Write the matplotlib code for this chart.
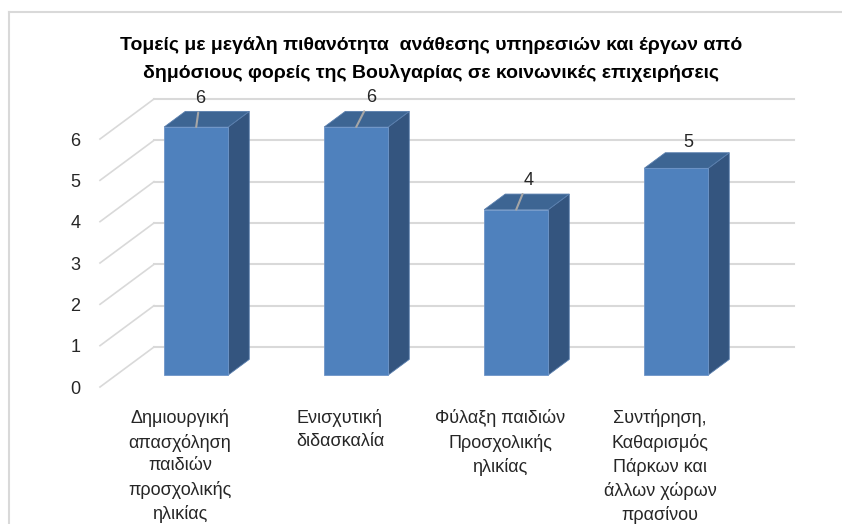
import matplotlib.pyplot as plt
from matplotlib.patches import Polygon
from matplotlib.lines import Line2D

plt.rcParams['font.family'] = ['Liberation Sans Narrow', 'Liberation Sans', 'DejaVu Sans']

title = ("Τομείς με μεγάλη πιθανότητα  ανάθεσης υπηρεσιών και έργων από\n"
         "δημόσιους φορείς της Βουλγαρίας σε κοινωνικές επιχειρήσεις")
categories = [
    "Δημιουργική\nαπασχόληση\nπαιδιών\nπροσχολικής\nηλικίας",
    "Ενισχυτική\nδιδασκαλία",
    "Φύλαξη παιδιών\nΠροσχολικής\nηλικίας",
    "Συντήρηση,\nΚαθαρισμός\nΠάρκων και\nάλλων χώρων\nπρασίνου",
]
values = [6, 6, 4, 5]
yticks = [0, 1, 2, 3, 4, 5, 6]

front_col = '#4F81BD'
side_col = '#34557F'
top_col = '#3D6593'
grid_col = '#D9D9D9'

fig = plt.figure(figsize=(8.42, 5.24), dpi=100)
W, H = 842, 524
# axes: front floor from x=100 to 740 px, value 0 at y=387 px, 6 at y=139 px
ax = fig.add_axes([100 / W, 137 / H, 640 / W, 248 / H])
ax.set_xlim(-0.5, 3.5)
ax.set_ylim(0, 6)
for s in ax.spines.values():
    s.set_visible(False)

# depth vector (full depth of the floor) in data units
DX = 54 / 160
DY = 40 / 41.33
b0, b1 = 0.3, 0.69   # bar depth span as fraction of floor depth
half = 0.2           # half bar width (category units)

# gridlines: back wall + left wall diagonals
for v in yticks:
    ax.add_line(Line2D([-0.5 + DX, 3.5 + DX], [v + DY, v + DY], color=grid_col,
                       lw=1.5, clip_on=False, zorder=1))
    ax.add_line(Line2D([-0.5, -0.5 + DX], [v, v + DY], color=grid_col,
                       lw=1.2, clip_on=False, zorder=1))

label_offsets = [(4, 20), (15, 21), (12, 21), (12, 17)]
leaders = [True, True, True, False]

for i, v in enumerate(values):
    fx0 = i - half + b0 * DX
    fx1 = i + half + b0 * DX
    fy = b0 * DY
    ddx = (b1 - b0) * DX
    ddy = (b1 - b0) * DY
    side = [(fx1, fy), (fx1 + ddx, fy + ddy), (fx1 + ddx, v + fy + ddy), (fx1, v + fy)]
    top = [(fx0, v + fy), (fx1, v + fy), (fx1 + ddx, v + fy + ddy), (fx0 + ddx, v + fy + ddy)]
    front = [(fx0, fy), (fx1, fy), (fx1, v + fy), (fx0, v + fy)]
    ax.add_patch(Polygon(side, closed=True, fc=side_col, ec='#5A7FAE', lw=0.6,
                         clip_on=False, zorder=3))
    ax.add_patch(Polygon(top, closed=True, fc=top_col, ec='#5A7FAE', lw=0.6,
                         clip_on=False, zorder=3))
    ax.add_patch(Polygon(front, closed=True, fc=front_col, ec='#6E95C8', lw=0.6,
                         clip_on=False, zorder=4))
    cx = i + b0 * DX
    ox, oy = label_offsets[i]
    ax.annotate(str(v), xy=(cx, v + fy), xytext=(ox, oy), textcoords='offset pixels',
                ha='center', va='bottom', fontsize=13, color='#262626',
                annotation_clip=False, zorder=6,
                arrowprops=dict(arrowstyle='-', color='#A6A6A6', lw=1.5,
                                shrinkA=2, shrinkB=0) if leaders[i] else None)

ax.set_yticks(yticks)
ax.set_yticklabels([str(t) for t in yticks], fontsize=13, color='#262626')
ax.tick_params(axis='y', length=0, pad=14)
ax.set_xticks(range(len(categories)))
ax.set_xticklabels(categories, fontsize=13, color='#262626', linespacing=1.45, va='top')
ax.tick_params(axis='x', length=0, pad=16)

fig.text(431 / W, 1 - 59 / H, title, ha='center', va='center', fontsize=14,
         fontweight='bold', color='#000000', linespacing=1.7)

# outer chart border (left and top visible)
fig.add_artist(Line2D([8.5 / W, 8.5 / W], [0, 1 - 11.5 / H], transform=fig.transFigure,
                      color=grid_col, lw=1.5))
fig.add_artist(Line2D([8.5 / W, 1], [1 - 11.5 / H, 1 - 11.5 / H], transform=fig.transFigure,
                      color=grid_col, lw=1.5))

fig.savefig('out.png', dpi=100)
